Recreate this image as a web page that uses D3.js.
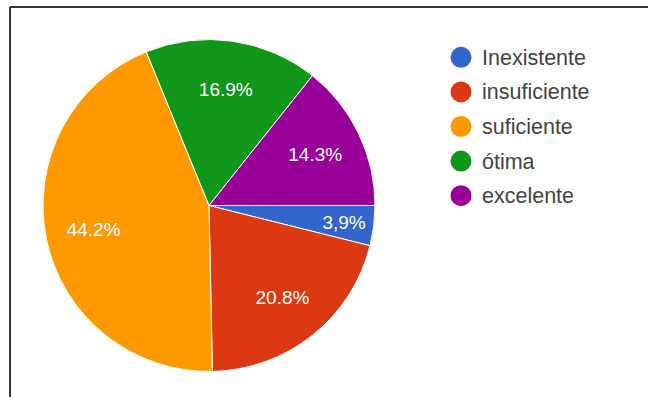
<!DOCTYPE html>
<html>
<head>
<meta charset="utf-8">
<script src="https://cdn.jsdelivr.net/npm/d3@7"></script>
<style>
  body { margin: 0; background: #fff; }
  svg { display: block; }
</style>
</head>
<body>
<div id="chart"></div>
<script>
var svgWidth = 648;
var svgHeight = 397;

// answers per category (77 responses)
const categories = ["Inexistente", "insuficiente", "suficiente", "ótima", "excelente"];
const counts = [3, 16, 34, 13, 11];
const pctLabels = ["3,9%", "20.8%", "44.2%", "16.9%", "14.3%"];
const colors = ["#3366cc", "#dc3912", "#ff9900", "#109618", "#990099"];

const svg = d3.select("#chart")
  .append("svg")
  .attr("width", svgWidth)
  .attr("height", svgHeight);

// frame: top and left edge only
svg.append("line")
  .attr("x1", 10).attr("y1", 7).attr("x2", svgWidth).attr("y2", 7)
  .attr("stroke", "#333").attr("stroke-width", 2);
svg.append("line")
  .attr("x1", 10).attr("y1", 7).attr("x2", 10).attr("y2", svgHeight)
  .attr("stroke", "#333").attr("stroke-width", 2);

const cx = 209, cy = 205.5, radius = 166;

const pie = d3.pie()
  .sort(null)
  .startAngle(Math.PI / 2)
  .endAngle(Math.PI / 2 + 2 * Math.PI);

const arcs = pie(counts);
const total = d3.sum(counts);

const arc = d3.arc().innerRadius(0).outerRadius(radius);

// thin slices get their label pushed out toward the rim
function labelPos(d) {
  const k = d.value / total < 0.1 ? 0.82 : 0.71;
  return d3.arc().innerRadius(radius * k).outerRadius(radius * k).centroid(d);
}

const pieGroup = svg.append("g")
  .attr("transform", `translate(${cx}, ${cy})`);

pieGroup.selectAll("path")
  .data(arcs)
  .enter()
  .append("path")
  .attr("d", arc)
  .attr("fill", (d, i) => colors[i])
  .attr("stroke", "#fff")
  .attr("stroke-width", 1);

pieGroup.selectAll("text")
  .data(arcs)
  .enter()
  .append("text")
  .attr("transform", d => `translate(${labelPos(d)})`)
  .attr("text-anchor", "middle")
  .attr("dy", "0.36em")
  .attr("fill", "#fff")
  .style("font-family", "'Liberation Sans', Arial, sans-serif")
  .style("font-size", "19px")
  .text((d, i) => pctLabels[i]);

// legend
const legendY = d3.scaleBand()
  .domain(categories)
  .range([40, 213]);

const legend = svg.append("g")
  .selectAll("g")
  .data(categories)
  .enter()
  .append("g")
  .attr("transform", d => `translate(461, ${legendY(d) + legendY.bandwidth() / 2})`);

legend.append("circle")
  .attr("r", 10.5)
  .attr("fill", (d, i) => colors[i]);

legend.append("text")
  .attr("x", 21)
  .attr("dy", "0.35em")
  .attr("fill", "#444")
  .style("font-family", "'Liberation Sans', Arial, sans-serif")
  .style("font-size", "21.5px")
  .text(d => d);
</script>
</body>
</html>
